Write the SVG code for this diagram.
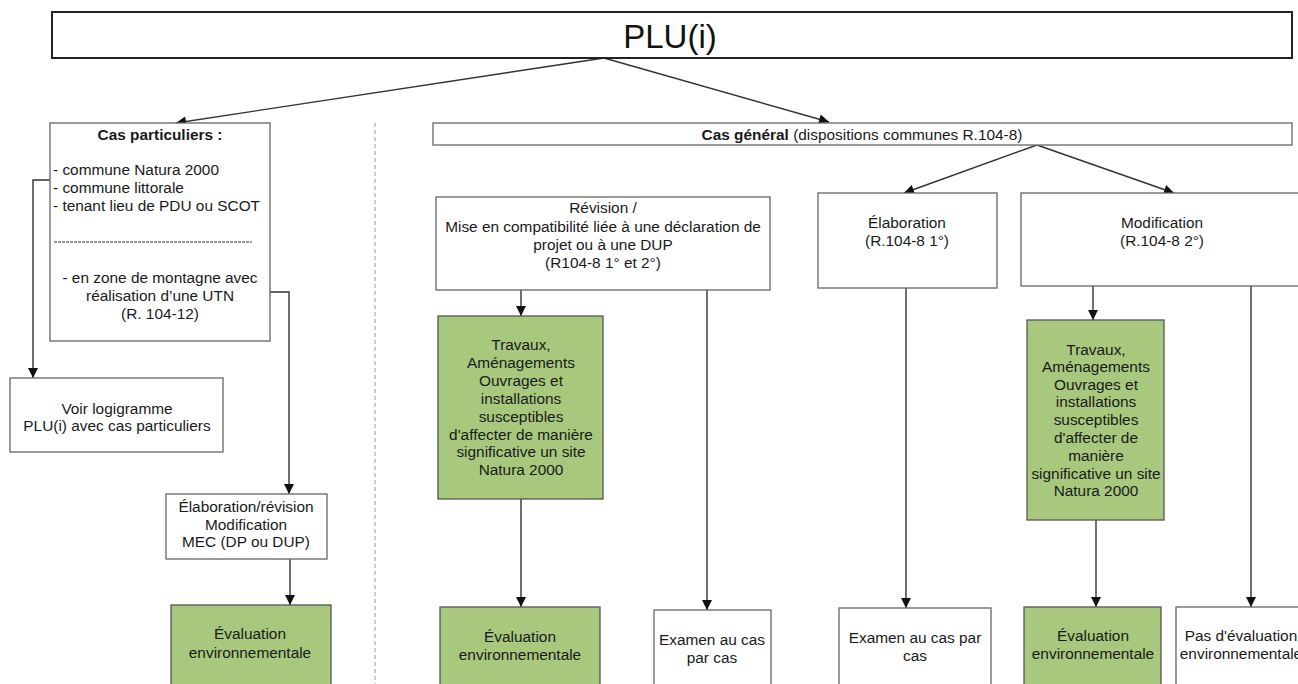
<svg xmlns="http://www.w3.org/2000/svg" width="1298" height="684" viewBox="0 0 1298 684">
<defs>
<marker id="ah" viewBox="0 0 10 10" refX="10" refY="5" markerWidth="11" markerHeight="10" markerUnits="userSpaceOnUse" orient="auto">
<path d="M0,0 L10,5 L0,10 z" fill="#111"/>
</marker>
<style>
.box{fill:#fff;stroke:#666;stroke-width:1.3}
.g{fill:#a8c87d;stroke:#555;stroke-width:1.3}
.t{font-family:"Liberation Sans",Arial,sans-serif;font-size:15.4px;fill:#1a1a1a;text-anchor:middle}
.tl{font-family:"Liberation Sans",Arial,sans-serif;font-size:15.4px;fill:#1a1a1a;text-anchor:start}
.b{font-weight:bold}
.c{fill:none;stroke:#333;stroke-width:1.4}
</style>
</defs>
<rect width="1298" height="684" fill="#fff"/>

<g id="connectors">
<line class="c" x1="604" y1="58" x2="176" y2="123" marker-end="url(#ah)"/>
<line class="c" x1="604" y1="58" x2="829" y2="122" marker-end="url(#ah)"/>
<polyline class="c" points="50,180 33,180 33,378" marker-end="url(#ah)"/>
<polyline class="c" points="270,292 289,292 289,494" marker-end="url(#ah)"/>
<line class="c" x1="290" y1="559" x2="290" y2="605" marker-end="url(#ah)"/>
<line class="c" x1="1037" y1="145" x2="904" y2="193" marker-end="url(#ah)"/>
<line class="c" x1="1037" y1="145" x2="1174" y2="193" marker-end="url(#ah)"/>
<line class="c" x1="521" y1="290" x2="521" y2="316" marker-end="url(#ah)"/>
<line class="c" x1="707" y1="290" x2="707" y2="610" marker-end="url(#ah)"/>
<line class="c" x1="521" y1="499" x2="521" y2="607" marker-end="url(#ah)"/>
<line class="c" x1="906" y1="288" x2="906" y2="608" marker-end="url(#ah)"/>
<line class="c" x1="1093" y1="286" x2="1093" y2="320" marker-end="url(#ah)"/>
<line class="c" x1="1096" y1="520" x2="1096" y2="607" marker-end="url(#ah)"/>
<line class="c" x1="1251" y1="286" x2="1251" y2="607" marker-end="url(#ah)"/>
<line x1="375" y1="123" x2="375" y2="684" stroke="#999" stroke-width="1" stroke-dasharray="4,3"/>
</g>

<g id="plu">
<rect x="52" y="12" width="1240" height="46" fill="#fff" stroke="#222" stroke-width="2"/>
<text x="670" y="48" font-family="Liberation Sans,Arial,sans-serif" font-size="33" fill="#111" text-anchor="middle">PLU(i)</text>
</g>

<g id="cas-particuliers">
<rect class="box" x="50" y="123" width="220" height="218"/>
<text class="t b" x="160" y="140">Cas particuliers :</text>
<text class="tl" x="53" y="175">- commune Natura 2000</text>
<text class="tl" x="53" y="193">- commune littorale</text>
<text class="tl" x="53" y="211">- tenant lieu de PDU ou SCOT</text>
<line x1="54" y1="242" x2="252" y2="242" stroke="#333" stroke-width="1" stroke-dasharray="3,1"/>
<text class="t" x="160" y="283">- en zone de montagne avec</text>
<text class="t" x="160" y="301">réalisation d’une UTN</text>
<text class="t" x="160" y="319">(R. 104-12)</text>
</g>

<g id="voir-logigramme">
<rect class="box" x="10" y="378" width="213" height="74"/>
<text class="t" x="117" y="414">Voir logigramme</text>
<text class="t" x="117" y="431">PLU(i) avec cas particuliers</text>
</g>

<g id="elab-revision-cp">
<rect class="box" x="166" y="494" width="161" height="65"/>
<text class="t" x="246" y="512">Élaboration/révision</text>
<text class="t" x="246" y="530">Modification</text>
<text class="t" x="246" y="547">MEC (DP ou DUP)</text>
</g>

<g id="eval-cp">
<rect class="g" x="171" y="605" width="160" height="90"/>
<text class="t" x="250" y="639">Évaluation</text>
<text class="t" x="250" y="658">environnementale</text>
</g>

<g id="cas-general">
<rect class="box" x="433" y="123" width="859" height="22"/>
<text class="t" x="862" y="140"><tspan class="b">Cas général</tspan> (dispositions communes R.104-8)</text>
</g>

<g id="revision">
<rect class="box" x="436" y="197" width="334" height="93"/>
<text class="t" x="603" y="213">Révision /</text>
<text class="t" x="603" y="232">Mise en compatibilité liée à une déclaration de</text>
<text class="t" x="603" y="250">projet ou à une DUP</text>
<text class="t" x="603" y="268">(R104-8 1° et 2°)</text>
</g>

<g id="travaux-rev">
<rect class="g" x="438" y="316" width="165" height="183"/>
<text class="t" x="521" y="350">Travaux,</text>
<text class="t" x="521" y="368">Aménagements</text>
<text class="t" x="521" y="386">Ouvrages et</text>
<text class="t" x="521" y="404">installations</text>
<text class="t" x="521" y="422">susceptibles</text>
<text class="t" x="521" y="440">d'affecter de manière</text>
<text class="t" x="521" y="457">significative un site</text>
<text class="t" x="521" y="475">Natura 2000</text>
</g>

<g id="eval-rev">
<rect class="g" x="440" y="607" width="160" height="90"/>
<text class="t" x="520" y="642">Évaluation</text>
<text class="t" x="520" y="660">environnementale</text>
</g>

<g id="examen-rev">
<rect class="box" x="654" y="610" width="117" height="90"/>
<text class="t" x="712" y="645">Examen au cas</text>
<text class="t" x="712" y="663">par cas</text>
</g>

<g id="elaboration">
<rect class="box" x="818" y="193" width="179" height="95"/>
<text class="t" x="907" y="228">Élaboration</text>
<text class="t" x="907" y="246">(R.104-8 1°)</text>
</g>

<g id="examen-elab">
<rect class="box" x="839" y="608" width="152" height="90"/>
<text class="t" x="915" y="643">Examen au cas par</text>
<text class="t" x="915" y="661">cas</text>
</g>

<g id="modification">
<rect class="box" x="1021" y="193" width="290" height="93"/>
<text class="t" x="1162" y="228">Modification</text>
<text class="t" x="1162" y="246">(R.104-8 2°)</text>
</g>

<g id="travaux-mod">
<rect class="g" x="1027" y="320" width="137" height="200"/>
<text class="t" x="1096" y="355">Travaux,</text>
<text class="t" x="1096" y="372">Aménagements</text>
<text class="t" x="1096" y="390">Ouvrages et</text>
<text class="t" x="1096" y="407">installations</text>
<text class="t" x="1096" y="425">susceptibles</text>
<text class="t" x="1096" y="443">d'affecter de</text>
<text class="t" x="1096" y="461">manière</text>
<text class="t" x="1096" y="479">significative un site</text>
<text class="t" x="1096" y="496">Natura 2000</text>
</g>

<g id="eval-mod">
<rect class="g" x="1024" y="607" width="137" height="90"/>
<text class="t" x="1093" y="641">Évaluation</text>
<text class="t" x="1093" y="659">environnementale</text>
</g>

<g id="pas-eval">
<rect class="box" x="1176" y="607" width="140" height="90"/>
<text class="t" x="1241" y="641">Pas d'évaluation</text>
<text class="t" x="1241" y="659">environnementale</text>
</g>
</svg>
